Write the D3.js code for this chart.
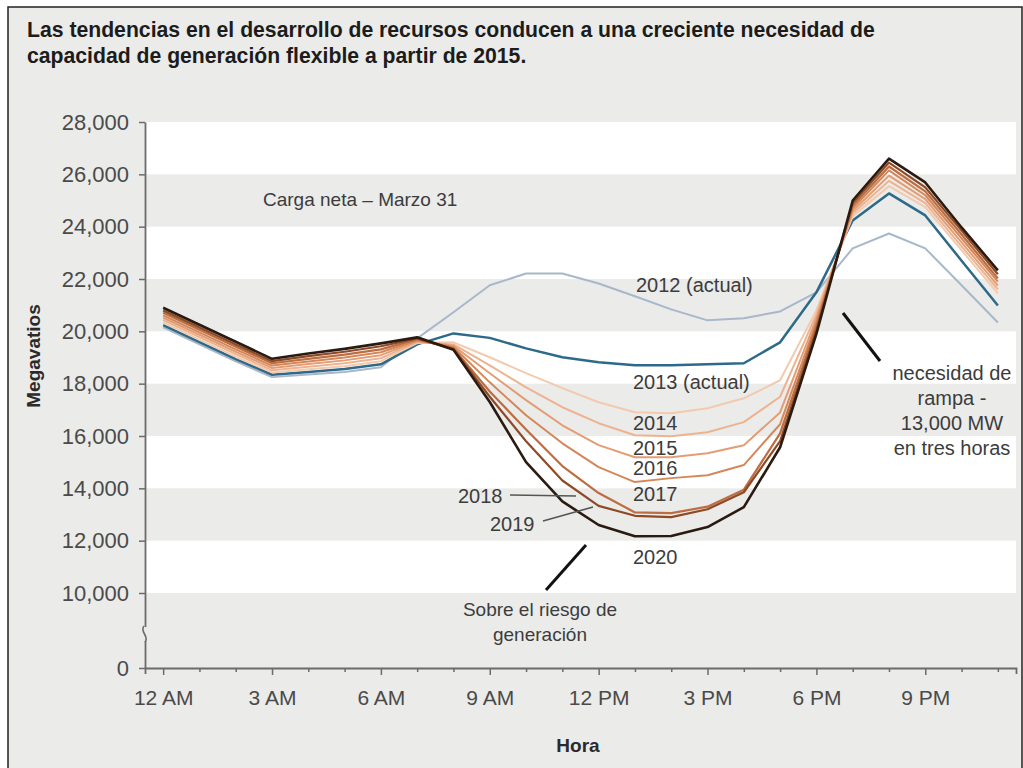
<!DOCTYPE html>
<html><head><meta charset="utf-8">
<script src="https://cdn.jsdelivr.net/npm/d3@7"></script>
<style>
body{margin:0;background:#fff;}
text{font-family:"Liberation Sans",Arial,Helvetica,sans-serif;}
</style>
</head><body>
<svg id="chart" width="1023" height="768"></svg>
<script>
// ---------- DATA ----------
const hours = [0,1,2,3,4,5,6,7,8,9,10,11,12,13,14,15,16,17,18,19,20,21,22,23];
const years = ["2012","2013","2014","2015","2016","2017","2018","2019","2020"];
const s2012 = [20150,19500,18850,18250,18350,18450,18630,19730,20730,21760,22210,22210,21830,21340,20840,20420,20500,20760,21490,23170,23740,23170,21760,20340];
const s2013 = [20240,19590,18940,18340,18450,18560,18740,19500,19920,19750,19350,19010,18820,18700,18700,18740,18780,19580,21490,24240,25270,24430,22700,20990];
const s2014 = [20330,19680,19030,18430,18550,18670,18860,19550,19580,19010,18400,17830,17290,16910,16870,17060,17440,18130,20800,24400,25550,24750,23100,21450];
const s2015 = [20430,19780,19130,18510,18650,18780,18970,19590,19500,18700,17860,17100,16490,16030,15990,16140,16530,17500,20650,24500,25750,24900,23250,21600];
const s2016 = [20520,19870,19220,18600,18750,18890,19090,19620,19450,18400,17370,16410,15650,15190,15190,15340,15650,16900,20500,24600,25950,25050,23400,21750];
const s2017 = [20610,19960,19310,18690,18850,19000,19200,19660,19400,18050,16790,15720,14810,14240,14390,14500,14890,16450,20350,24700,26150,25200,23550,21900];
const s2018 = [20710,20060,19410,18780,18950,19110,19310,19700,19350,17700,16250,14850,13820,13080,13050,13300,13950,16100,20200,24800,26300,25350,23700,22020];
const s2019 = [20800,20150,19500,18860,19050,19220,19430,19730,19320,17500,15800,14300,13330,12950,12900,13200,13850,15800,20050,24900,26450,25500,23850,22180];
const s2020 = [20900,20250,19600,18950,19150,19330,19540,19770,19300,17300,15000,13500,12600,12170,12180,12520,13280,15570,19900,25000,26600,25690,23970,22330];
const seriesValues = [s2012,s2013,s2014,s2015,s2016,s2017,s2018,s2019,s2020];
const seriesColors = ["#a8b7ca","#2d6a89","#f3caad","#edb390","#e39d74","#d5875a","#bd6d40","#8e4a26","#2a1a10"];
const seriesWidths = [2,2.5,2,2,2,2,2.2,2.2,2.6];

const yTicks = [0,10000,12000,14000,16000,18000,20000,22000,24000,26000,28000];
const whiteBands = [[10000,12000],[14000,16000],[18000,20000],[22000,24000],[26000,28000]];
const xMajor = [0,3,6,9,12,15,18,21];
const xLabels = ["12 AM","3 AM","6 AM","9 AM","12 PM","3 PM","6 PM","9 PM"];

const titleLines = ["Las tendencias en el desarrollo de recursos conducen a una creciente necesidad de",
                    "capacidad de generación flexible a partir de 2015."];

// ---------- SETUP ----------
const svg = d3.select("#chart");
const bg = "#ebebe9";
svg.append("rect").attr("x",8).attr("y",7).attr("width",1014).attr("height",790)
   .attr("fill",bg).attr("stroke","#222").attr("stroke-width",1.5);

const x = d3.scaleLinear().domain([-0.5, 23.5]).range([145, 1016]);
const y = d3.scaleLinear().domain([0, 10000, 28000]).range([668, 593, 122]);

// bands
svg.append("g").selectAll("rect").data(whiteBands).join("rect")
  .attr("x", x(-0.5)+1).attr("width", x(23.5)-x(-0.5)-1)
  .attr("y", d => y(d[1])).attr("height", d => y(d[0]) - y(d[1]))
  .attr("fill", "#ffffff");

// title
svg.append("g").selectAll("text").data(titleLines).join("text")
  .attr("x", 27).attr("y", (d,i) => 37 + i*26)
  .attr("font-size", 21.2).attr("font-weight","bold").attr("fill","#1c1c1c")
  .text(d => d);

// lines
const line = d3.line().x((d,i) => x(hours[i])).y(d => y(d));
svg.append("g").selectAll("path").data(seriesValues).join("path")
  .attr("d", d => line(d))
  .attr("fill","none")
  .attr("stroke", (d,i) => seriesColors[i])
  .attr("stroke-width", (d,i) => seriesWidths[i])
  .attr("stroke-linejoin","round");

// y axis
const yAxis = d3.axisLeft(y).tickValues(yTicks).tickFormat(d3.format(",")).tickSize(6).tickSizeOuter(0).tickPadding(10);
const gy = svg.append("g").attr("transform", `translate(${x(-0.5)},0)`).call(yAxis);
gy.select(".domain").attr("stroke","#6b6b6b").attr("stroke-width",1.8);
gy.selectAll(".tick line").attr("stroke","#6b6b6b").attr("stroke-width",1.5);
gy.selectAll(".tick text").attr("font-size",22).attr("fill","#4a4a4a")
  .attr("font-family",'"Liberation Sans",Arial,sans-serif');

// axis break
svg.append("rect").attr("x", x(-0.5)-4).attr("y", 627).attr("width", 8).attr("height", 14).attr("fill", bg);
svg.append("path").attr("d", `M${x(-0.5)-1},626 C${x(-0.5)-6},631 ${x(-0.5)+5},637 ${x(-0.5)},642`)
  .attr("fill","none").attr("stroke","#6b6b6b").attr("stroke-width",1.6);

// x axis
const xAxis = d3.axisBottom(x).tickValues(hours)
  .tickFormat(d => xMajor.includes(d) ? xLabels[xMajor.indexOf(d)] : "")
  .tickSizeOuter(0).tickSize(6).tickPadding(16);
const gx = svg.append("g").attr("transform", `translate(0,${y(0)})`).call(xAxis);
gx.select(".domain").attr("stroke","#6b6b6b").attr("stroke-width",1.8);
gx.selectAll(".tick line").attr("stroke","#6b6b6b").attr("stroke-width",1.5)
  .attr("y2", d => xMajor.includes(d) ? 7 : 4);
gx.selectAll(".tick text").attr("font-size",21).attr("fill","#4a4a4a")
  .attr("font-family",'"Liberation Sans",Arial,sans-serif');

// axis titles
svg.append("text").attr("transform","translate(40,356) rotate(-90)")
  .attr("text-anchor","middle").attr("font-size",19).attr("font-weight","bold").attr("fill","#2a2a2a")
  .text("Megavatios");
svg.append("text").attr("x",578).attr("y",752)
  .attr("text-anchor","middle").attr("font-size",19).attr("font-weight","bold").attr("fill","#2a2a2a")
  .text("Hora");

// annotations
const ann = svg.append("g").attr("fill","#3c3c3c").attr("font-size",20);
ann.append("text").attr("x",263).attr("y",206).attr("font-size",19).text("Carga neta – Marzo 31");
const yearLabels = [
  ["2012 (actual)",636,292],["2013 (actual)",633,389],["2014",633,430],["2015",633,455],
  ["2016",633,475],["2017",633,501],["2020",633,564],["2018",458,503],["2019",490,531]
];
ann.selectAll("text.yl").data(yearLabels).join("text").attr("class","yl")
  .attr("x",d=>d[1]).attr("y",d=>d[2]).text(d=>d[0]);

// leader lines for 2018 / 2019
svg.append("path").attr("d","M510,495 L576,496").attr("stroke","#555").attr("stroke-width",1.6).attr("fill","none");
svg.append("path").attr("d","M543,521 L593,507").attr("stroke","#555").attr("stroke-width",1.6).attr("fill","none");

// black leader lines
svg.append("path").attr("d","M546,590 L586,545").attr("stroke","#111").attr("stroke-width",3).attr("fill","none");
svg.append("path").attr("d","M843,313 L880,361").attr("stroke","#111").attr("stroke-width",3).attr("fill","none");

const riesgo = ["Sobre el riesgo de","generación"];
ann.selectAll("text.r").data(riesgo).join("text").attr("class","r")
  .attr("x",540).attr("y",(d,i)=>616+i*25).attr("text-anchor","middle").attr("font-size",19).text(d=>d);
const rampa = ["necesidad de","rampa -","13,000 MW","en tres horas"];
ann.selectAll("text.p").data(rampa).join("text").attr("class","p")
  .attr("x",952).attr("y",(d,i)=>380+i*25).attr("text-anchor","middle").attr("font-size",20).text(d=>d);
</script>
</body></html>
